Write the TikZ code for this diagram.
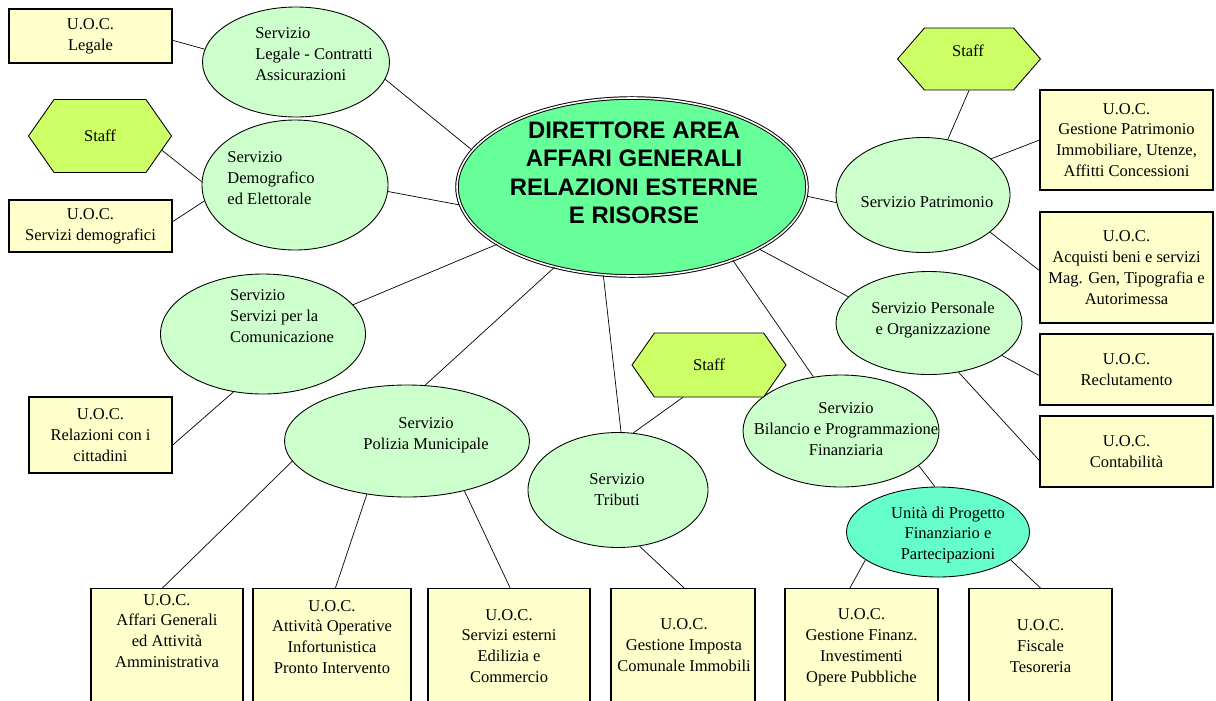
\documentclass[tikz,border=0pt]{standalone}
\usepackage{fontspec}
\setmainfont{Liberation Serif}
\newfontfamily\headfont{Liberation Sans}
\usepackage{tikz}
\usetikzlibrary{shapes.geometric,shapes.symbols}

\definecolor{uocfill}{HTML}{FFFFCC}
\definecolor{svcfill}{HTML}{CCFFCC}
\definecolor{dirfill}{HTML}{66FF99}
\definecolor{stafffill}{HTML}{CCFF66}
\definecolor{upfill}{HTML}{66FFCC}

\begin{document}
\begin{tikzpicture}[x=0.02cm, y=-0.02cm,
	font=\fontsize{9.4}{11.9}\selectfont,
	uoc/.style 2 args={shape=rectangle, draw=black, fill=uocfill, line width=0.6pt, align=center, inner sep=0pt, minimum width=#1*0.02cm, minimum height=#2*0.02cm},
	svc/.style 2 args={shape=ellipse, draw=black, fill=svcfill, line width=0.5pt, inner sep=0pt, minimum width=#1*0.02cm, minimum height=#2*0.02cm},
	staff/.style 2 args={shape=signal, signal to=east and west, signal pointer angle=110, draw=black, fill=stafffill, line width=0.5pt, inner sep=0pt, minimum width=#1*0.02cm, minimum height=#2*0.02cm},
	txt/.style={align=center, inner sep=0pt}]

	\useasboundingbox (0, 0) rectangle (1216, 700);
	\clip (0, 0) rectangle (1216, 700);

	% centre
	\node[shape=ellipse, draw=black, double=white, double distance=0.9pt, line width=0.55pt, fill=dirfill, inner sep=0pt, minimum width=350*0.02cm, minimum height=178*0.02cm] (dir) at (632, 187) {};
	\node[txt, font=\headfont\bfseries\fontsize{13.6}{16.2}\selectfont] (dirtxt) at (634, 173) {DIRETTORE AREA\\AFFARI GENERALI\\RELAZIONI ESTERNE\\E RISORSE};

	% servizi
	\node[svc={187}{110}] (leg) at (296, 62) {};
	\node[txt, align=left] (legtxt) at (314, 54) {Servizio\\Legale - Contratti\\Assicurazioni};
	\node[svc={186}{130}] (dem) at (295, 185) {};
	\node[txt, align=left] (demtxt) at (271, 178) {Servizio\\Demografico\\ed Elettorale};
	\node[svc={205}{120}] (com) at (263, 334) {};
	\node[txt, align=left] (comtxt) at (282, 316) {Servizio\\Servizi per la\\Comunicazione};
	\node[svc={245}{112}] (pol) at (407, 441) {};
	\node[txt] (poltxt) at (426, 435) {Servizio\\Polizia Municipale};
	\node[svc={180}{115}] (trib) at (618, 490) {};
	\node[txt] (tribtxt) at (617, 490) {Servizio\\Tributi};
	\node[svc={196}{112}] (bil) at (841, 431) {};
	\node[txt] (biltxt) at (846, 429) {Servizio\\Bilancio e Programmazione\\Finanziaria};
	\node[svc={183}{90}, fill=upfill] (upf) at (938, 532) {};
	\node[txt] (upftxt) at (948, 535) {Unità di Progetto\\Finanziario e\\Partecipazioni};
	\node[svc={174}{115}] (pat) at (923, 195) {};
	\node[txt] (pattxt) at (927, 202) {Servizio Patrimonio};
	\node[svc={186}{103}] (pers) at (929, 323) {};
	\node[txt] (perstxt) at (933, 320) {Servizio Personale\\e Organizzazione};

	% staff
	\node[staff={143}{73}] (staffL) at (100, 136) {Staff};
	\node[staff={154}{64}] (staffM) at (709, 365) {Staff};
	\node[staff={143}{62}, signal pointer angle=98] (staffR) at (969, 59) {};
	\node[txt] (staffRtxt) at (968, 51) {Staff};

	% U.O.C.
	\node[uoc={163}{54}] (uLeg) at (90.5, 36) {U.O.C.\\Legale};
	\node[uoc={163}{52}] (uDem) at (90.5, 226) {U.O.C.\\Servizi demografici};
	\node[uoc={143}{76}] (uRel) at (100.5, 435) {U.O.C.\\Relazioni con i\\cittadini};
	\node[uoc={173}{100}] (uGest) at (1126.5, 140) {U.O.C.\\Gestione Patrimonio\\Immobiliare, Utenze,\\Affitti Concessioni};
	\node[uoc={173}{111}] (uAcq) at (1126.5, 267.5) {U.O.C.\\Acquisti beni e servizi\\Mag. Gen, Tipografia e\\Autorimessa};
	\node[uoc={173}{71}] (uRec) at (1126.5, 369.5) {U.O.C.\\Reclutamento};
	\node[uoc={173}{71}] (uCont) at (1126.5, 451.5) {U.O.C.\\Contabilità};

	\node[uoc={152}{130}, anchor=north] (uAff) at (167, 588) {};
	\node[txt] (uAfftxt) at (167, 631) {U.O.C.\\Affari Generali\\ed Attività\\Amministrativa};
	\node[uoc={158}{130}, anchor=north] (uAtt) at (332, 588) {};
	\node[txt] (uAtttxt) at (332, 637) {U.O.C.\\Attività Operative\\Infortunistica\\Pronto Intervento};
	\node[uoc={162}{130}, anchor=north] (uSer) at (509, 588) {};
	\node[txt] (uSertxt) at (509, 646) {U.O.C.\\Servizi esterni\\Edilizia e\\Commercio};
	\node[uoc={144}{130}, anchor=north] (uImp) at (683, 588) {};
	\node[txt] (uImptxt) at (684, 645) {U.O.C.\\Gestione Imposta\\Comunale Immobili};
	\node[uoc={153}{130}, anchor=north] (uFin) at (861.5, 588) {};
	\node[txt] (uFintxt) at (861.5, 647) {U.O.C.\\Gestione Finanz.\\Investimenti\\Opere Pubbliche};
	\node[uoc={143}{130}, anchor=north] (uFis) at (1040.5, 588) {};
	\node[txt] (uFistxt) at (1040.5, 646) {U.O.C.\\Fiscale\\Tesoreria};

	% collegamenti
	\path[-] (uLeg.357) edge (leg.172);
	\path[-] (staffL.347) edge (dem.178);
	\path[-] (uDem.3) edge (dem.190);
	\path[-] (leg.349) edge (dir.167);
	\path[-] (dem.356) edge (dir.186);
	\path[-] (com.18) edge (dir.203);
	\path[-] (com.243) edge (uRel.352);
	\path[-] (dir.226) edge (pol.72);
	\path[-] (dir.252) edge (trib.87);
	\path[-] (dir.324) edge (bil.117);
	\path[-] (dir.334) edge (pers.162);
	\path[-] (dir.357) edge (pat.185);
	\path[-] (pat.66) edge (staffR.270);
	\path[-] (pat.28) edge (uGest.180);
	\path[-] (pat.331) edge (uAcq.182);
	\path[-] (pers.336) edge (uRec.184);
	\path[-] (pers.301) edge (uCont.186);
	\path[-] (bil.336) edge (upf.94);
	\path[-] (upf.201) edge (uFin.100);
	\path[-] (upf.339) edge (uFis.90);
	\path[-] (trib.75) edge (staffM.231);
	\path[-] (trib.291) edge (uImp.89);
	\path[-] (pol.190) edge (uAff.94);
	\path[-] (pol.233) edge (uAtt.87);
	\path[-] (pol.319) edge (uSer.89);
\end{tikzpicture}
\end{document}
